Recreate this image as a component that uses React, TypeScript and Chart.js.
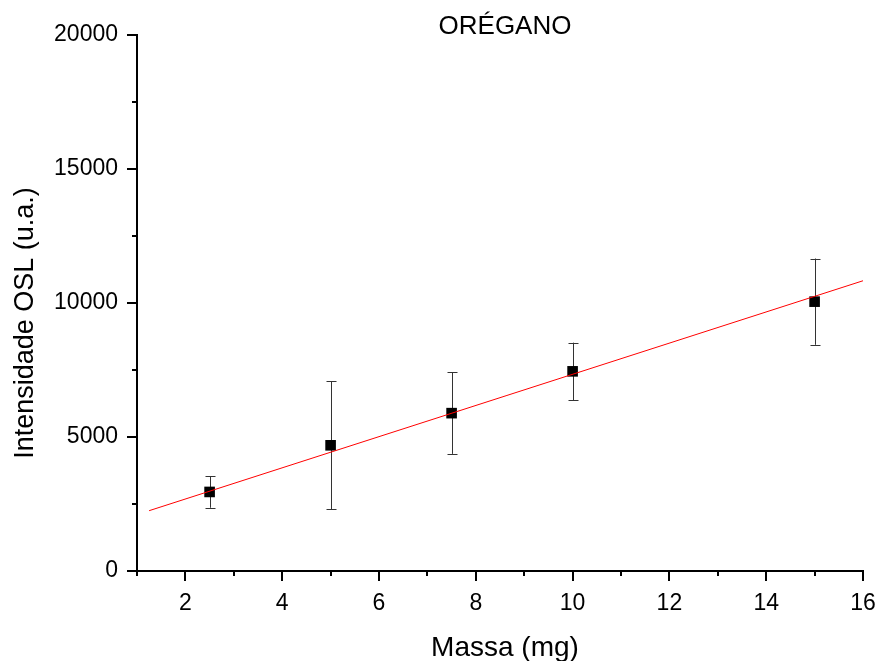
import { useEffect, useRef } from 'react';
import { Chart, registerables } from 'chart.js';

Chart.register(...registerables);

// ---- data ----
const massa = [2.5, 5, 7.5, 10, 15];
const intensidade = [2950, 4690, 5890, 7450, 10050];
const erro = [590, 2390, 1520, 1070, 1610];
const fitX = [1.25, 16];
const fitY = [2250, 10830];
const xTickLabels = ['2', '4', '6', '8', '10', '12', '14', '16'];
const yTickLabels = ['0', '5000', '10000', '15000', '20000'];
const chartTitle = 'ORÉGANO';
const xTitle = 'Massa (mg)';
const yTitle = 'Intensidade OSL (u.a.)';

const FONT = '"Liberation Sans", Arial, Helvetica, sans-serif';

const decorPlugin = {
  id: 'decor',
  beforeDatasetsDraw(chart: any) {
    const { ctx, scales } = chart;
    const xs = scales.x;
    const ys = scales.y;
    ctx.save();
    ctx.strokeStyle = '#333333';
    ctx.lineWidth = 1;
    massa.forEach((m, i) => {
      const px = Math.round(xs.getPixelForValue(m)) + 0.5;
      const top = ys.getPixelForValue(intensidade[i] + erro[i]);
      const bot = ys.getPixelForValue(intensidade[i] - erro[i]);
      ctx.beginPath();
      ctx.moveTo(px, top);
      ctx.lineTo(px, bot);
      ctx.moveTo(px - 5, Math.round(top) + 0.5);
      ctx.lineTo(px + 5, Math.round(top) + 0.5);
      ctx.moveTo(px - 5, Math.round(bot) + 0.5);
      ctx.lineTo(px + 5, Math.round(bot) + 0.5);
      ctx.stroke();
    });
    ctx.restore();
  },
  afterDraw(chart: any) {
    const { ctx, scales, chartArea } = chart;
    const xs = scales.x;
    const ys = scales.y;
    ctx.save();
    ctx.strokeStyle = '#000';
    ctx.lineWidth = 2;
    // x ticks
    for (let v = 1; v <= 16; v++) {
      const px = Math.round(xs.getPixelForValue(v));
      const len = v % 2 === 0 ? 10 : 5;
      ctx.beginPath();
      ctx.moveTo(px, chartArea.bottom);
      ctx.lineTo(px, chartArea.bottom + len);
      ctx.stroke();
    }
    // y ticks
    for (let v = 0; v <= 20000; v += 2500) {
      const py = Math.round(ys.getPixelForValue(v));
      const len = v % 5000 === 0 ? 10 : 5;
      ctx.beginPath();
      ctx.moveTo(chartArea.left, py);
      ctx.lineTo(chartArea.left - len, py);
      ctx.stroke();
    }
    // titles
    ctx.fillStyle = '#000';
    ctx.textAlign = 'center';
    ctx.textBaseline = 'alphabetic';
    ctx.font = `26px ${FONT}`;
    ctx.fillText(chartTitle, 505, 34);
    ctx.font = `28px ${FONT}`;
    ctx.fillText(xTitle, 505, 656);
    ctx.font = `27px ${FONT}`;
    ctx.translate(33, 323);
    ctx.rotate(-Math.PI / 2);
    ctx.fillText(yTitle, 0, 0);
    ctx.restore();
  },
};

export default function App() {
  const ref = useRef<HTMLCanvasElement | null>(null);

  useEffect(() => {
    if (!ref.current) return;
    const chart = new Chart(ref.current, {
      type: 'scatter',
      data: {
        datasets: [
          {
            type: 'line',
            label: 'fit',
            data: fitX.map((x, i) => ({ x, y: fitY[i] })),
            borderColor: '#ff0000',
            borderWidth: 1,
            pointRadius: 0,
            fill: false,
            order: 0,
          },
          {
            type: 'scatter',
            label: 'dados',
            data: massa.map((x, i) => ({ x, y: intensidade[i] })),
            pointStyle: 'rect',
            pointRadius: 7.5,
            pointHoverRadius: 7.5,
            backgroundColor: '#000',
            borderColor: '#000',
            borderWidth: 0,
            order: 1,
          },
        ],
      },
      options: {
        responsive: false,
        animation: false,
        layout: { padding: { left: 0, right: 15, top: 35, bottom: 0 } },
        plugins: {
          legend: { display: false },
          title: { display: false },
          tooltip: { enabled: false },
        },
        scales: {
          x: {
            type: 'linear',
            min: 1,
            max: 16,
            afterFit: (s: any) => {
              s.height = 90;
              s.paddingLeft = 0;
              s.paddingRight = 0;
            },
            grid: {
              display: true,
              drawOnChartArea: false,
              drawTicks: true,
              tickLength: 10,
              color: 'rgba(0,0,0,0)',
            },
            border: { display: true, color: '#000', width: 2 },
            ticks: {
              stepSize: 1,
              autoSkip: false,
              maxRotation: 0,
              padding: 9,
              color: '#000',
              font: { family: FONT, size: 23 },
              callback: (v: any) => {
                const idx = xTickLabels.indexOf(String(v));
                return idx >= 0 ? xTickLabels[idx] : '';
              },
            },
          },
          y: {
            type: 'linear',
            min: 0,
            max: 20000,
            afterFit: (s: any) => {
              s.width = 137;
              s.paddingTop = 0;
              s.paddingBottom = 0;
            },
            grid: {
              display: true,
              drawOnChartArea: false,
              drawTicks: true,
              tickLength: 10,
              color: 'rgba(0,0,0,0)',
            },
            border: { display: true, color: '#000', width: 2 },
            ticks: {
              stepSize: 2500,
              autoSkip: false,
              padding: 9,
              color: '#000',
              font: { family: FONT, size: 23 },
              callback: (v: any) => {
                const idx = yTickLabels.indexOf(String(v));
                return idx >= 0 ? yTickLabels[idx] : '';
              },
            },
          },
        },
      },
      plugins: [decorPlugin],
    });
    return () => chart.destroy();
  }, []);

  return (
    <div style={{ position: 'absolute', left: 0, top: 0, width: 878, height: 661, background: '#fff' }}>
      <canvas ref={ref} width={878} height={661} />
    </div>
  );
}
